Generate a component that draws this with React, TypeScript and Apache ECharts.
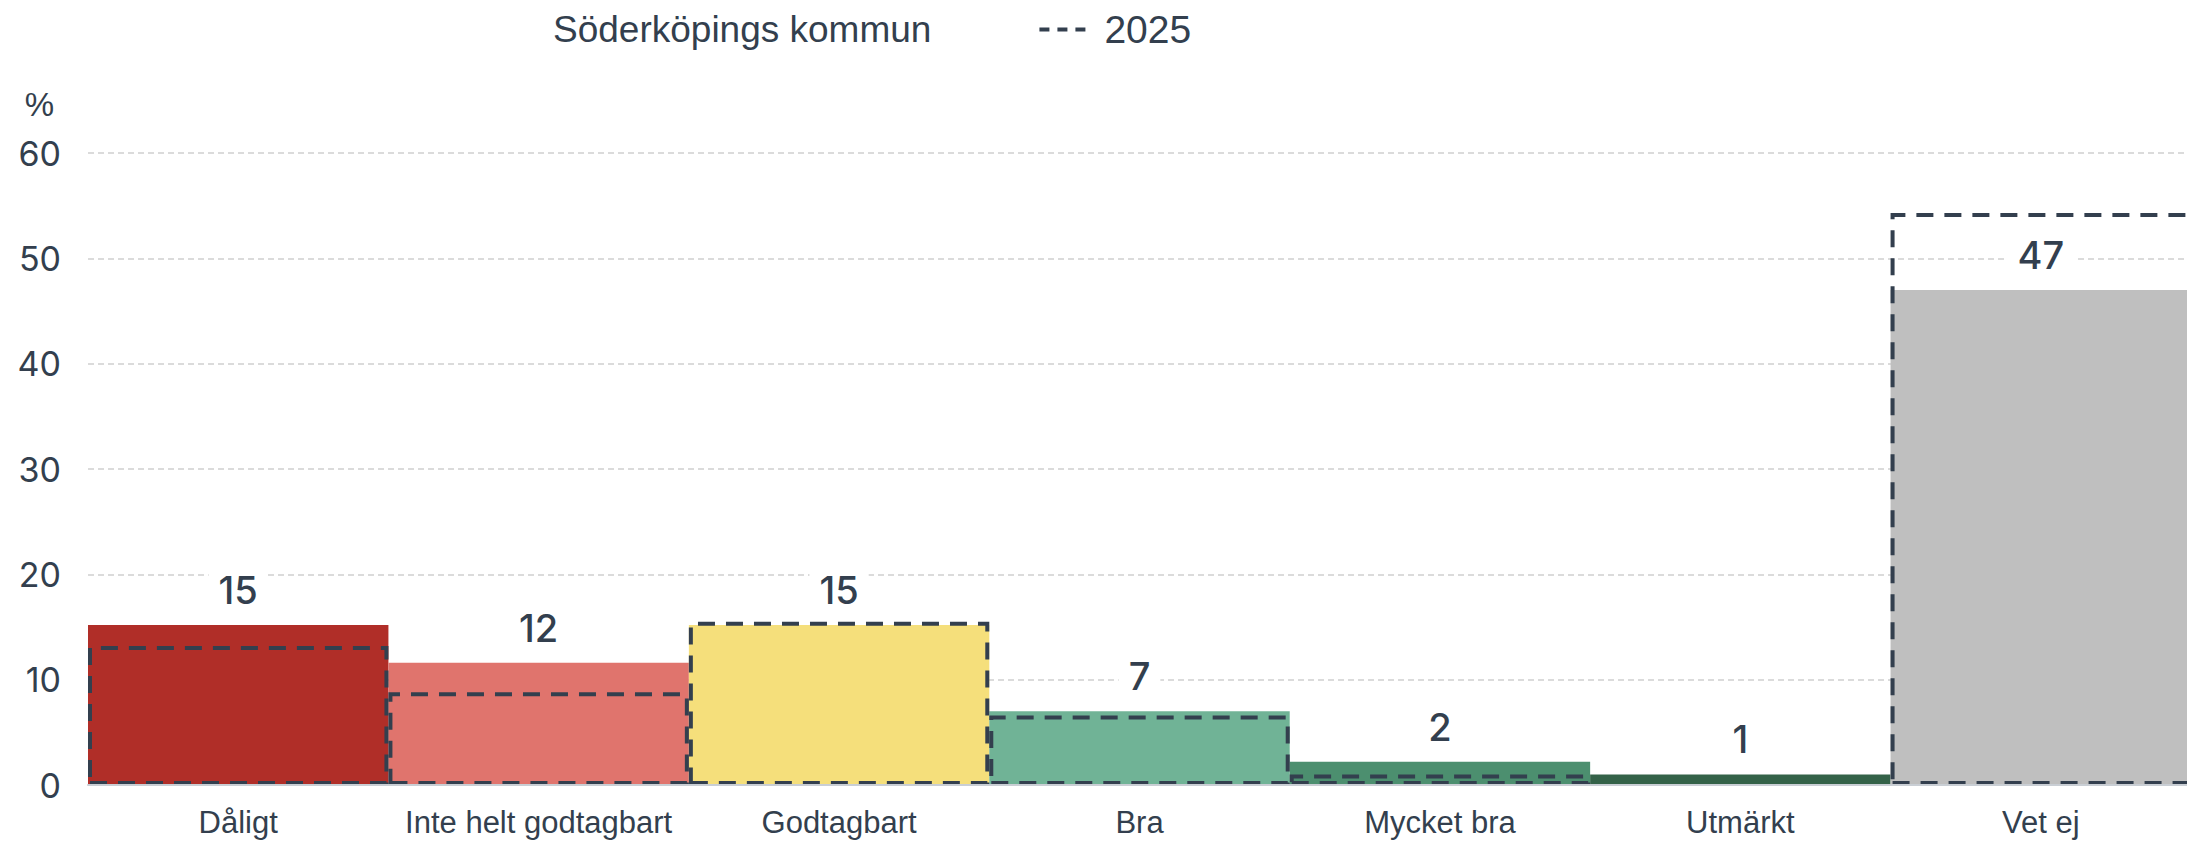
import React, { useEffect, useRef } from "react";
import * as echarts from "echarts";

const categories = ["Dåligt", "Inte helt godtagbart", "Godtagbart", "Bra", "Mycket bra", "Utmärkt", "Vet ej"];
const values2026 = [15.2, 11.6, 15.2, 7.0, 2.2, 1.0, 47.0];
const labels2026 = ["15", "12", "15", "7", "2", "1", "47"];
const values2025: (number | null)[] = [13.2, 8.8, 15.5, 6.6, 1.0, null, 54.3];
const barColors = ["#b02e28", "#e0746d", "#f5df7b", "#70b396", "#4c8f6f", "#346248", "#bfbfbf"];
const yTicks = [0, 10, 20, 30, 40, 50, 60];
const seriesName = "Söderköpings kommun";
const compareName = "2025";

const TEXT = "#333f4e";

export default function App() {
  const ref = useRef<HTMLDivElement>(null);
  useEffect(() => {
    document.body.style.margin = "0";
    document.body.style.overflow = "hidden";
    const chart = echarts.init(ref.current!, null, { renderer: "svg" });
    chart.setOption({
      animation: false,
      backgroundColor: "#ffffff",
      legend: {
        top: 5,
        left: 497,
        itemGap: 108,
        itemWidth: 46,
        itemHeight: 5,
        textStyle: { color: TEXT, fontSize: 37, fontFamily: "Liberation Sans" },
        data: [
          { name: seriesName, icon: "none" },
          {
            name: compareName,
            icon: "path://M0,0h10v4h-10z M18,0h10v4h-10z M36,0h10v4h-10z",
            itemStyle: { color: TEXT, borderWidth: 0 },
            textStyle: { padding: [0, 0, 0, 14], fontSize: 39 },
          },
        ],
      },
      grid: { left: 88, right: 6, top: 153, bottom: 57, containLabel: false },
      xAxis: {
        type: "category",
        data: categories,
        z: 5,
        axisTick: { show: false },
        axisLine: { show: true, lineStyle: { color: "#c9ced4", width: 2 } },
        axisLabel: { color: TEXT, fontSize: 31, fontFamily: "Liberation Sans", margin: 22, interval: 0 },
      },
      yAxis: {
        type: "value",
        min: 0,
        max: 60,
        interval: 10,
        name: "%",
        nameLocation: "end",
        nameGap: 32,
        nameTextStyle: { color: TEXT, fontSize: 33, fontFamily: "Liberation Sans", align: "right", padding: [0, 34, 0, 0] },
        axisLine: { show: false },
        axisTick: { show: false },
        axisLabel: {
          color: TEXT,
          fontSize: 34,
          fontFamily: "Inter",
          margin: 27,
          formatter: (v: number) => (yTicks.includes(v) ? String(v) : ""),
        },
        splitLine: { show: true, lineStyle: { color: "#cfcfcf", type: [6, 4], width: 1.5 } },
      },
      series: [
        {
          name: seriesName,
          type: "bar",
          barCategoryGap: "0%",
          barGap: "-100%",
          z: 2,
          data: values2026.map((v, i) => ({ value: v, itemStyle: { color: barColors[i] } })),
          label: {
            show: true,
            position: "top",
            distance: 14,
            color: TEXT,
            fontSize: 38,
            fontWeight: 500,
            fontFamily: "Inter",
            backgroundColor: "#ffffff",
            padding: [2, 10],
            formatter: (p: any) => labels2026[p.dataIndex],
          },
        },
        {
          name: compareName,
          type: "bar",
          barCategoryGap: "0%",
          barGap: "-100%",
          z: 3,
          data: values2025,
          itemStyle: {
            color: "rgba(0,0,0,0)",
            borderColor: TEXT,
            borderWidth: 4,
            borderType: [17, 11],
          },
          label: { show: false },
        },
      ],
    });
    return () => chart.dispose();
  }, []);
  return <div ref={ref} style={{ width: 2197, height: 842 }} />;
}
